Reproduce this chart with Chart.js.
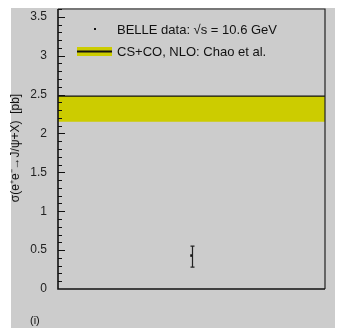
<!DOCTYPE html>
<html>
<head>
<meta charset="utf-8">
<script src="https://cdn.jsdelivr.net/npm/chart.js@4/dist/chart.umd.min.js"></script>
<style>
  html, body { margin: 0; padding: 0; background: #fff; }
  #wrap { width: 337px; height: 332px; }
</style>
</head>
<body>
<div id="wrap"><canvas id="c" width="337" height="332"></canvas></div>
<script>
// values
const xRange = [0, 2];
const belleX = [1];
const belleY = [0.43];
const belleErrUp = [0.12];
const belleErrDown = [0.15];
const bandLow = [2.15, 2.15];
const bandHigh = [2.48, 2.48];
const yTicks = [0, 0.5, 1, 1.5, 2, 2.5, 3, 3.5];

const bandColor = '#cccc00';
const font = 'Arial, "Liberation Sans", sans-serif';

const decor = {
    id: 'decor',
    beforeDraw(chart) {
        const ctx = chart.ctx;
        ctx.save();
        ctx.fillStyle = '#cccccc';
        ctx.fillRect(11, 8, 324, 320);
        ctx.restore();
    },
    afterDatasetsDraw(chart) {
        const ctx = chart.ctx;
        const { left, right, top, bottom } = chart.chartArea;
        const y = chart.scales.y;
        const x = chart.scales.x;
        ctx.save();
        // frame
        ctx.strokeStyle = '#222';
        ctx.lineWidth = 1.2;
        ctx.beginPath();
        ctx.moveTo(left, top);
        ctx.lineTo(right, top);
        ctx.lineTo(right, bottom);
        ctx.stroke();
        ctx.strokeStyle = '#111';
        ctx.lineWidth = 1.6;
        ctx.beginPath();
        ctx.moveTo(left, top);
        ctx.lineTo(left, bottom);
        ctx.lineTo(right, bottom);
        ctx.stroke();
        // inward ticks on the y axis
        ctx.lineWidth = 1;
        for (let i = 1; i <= 36; i++) {
            const v = i / 10;
            const py = Math.round(y.getPixelForValue(v)) + 0.5;
            const len = i % 5 === 0 ? 7 : 4;
            ctx.beginPath();
            ctx.moveTo(left, py);
            ctx.lineTo(left + len, py);
            ctx.stroke();
        }
        // error bars
        ctx.strokeStyle = '#222';
        ctx.lineWidth = 1.2;
        belleX.forEach((bx, i) => {
            const px = Math.round(x.getPixelForValue(bx)) + 0.5;
            const yHi = y.getPixelForValue(belleY[i] + belleErrUp[i]);
            const yLo = y.getPixelForValue(belleY[i] - belleErrDown[i]);
            ctx.beginPath();
            ctx.moveTo(px, yHi);
            ctx.lineTo(px, yLo);
            ctx.moveTo(px - 2, yHi);
            ctx.lineTo(px + 2, yHi);
            ctx.moveTo(px - 2, yLo);
            ctx.lineTo(px + 2, yLo);
            ctx.stroke();
        });
        // legend
        ctx.fillStyle = '#111';
        ctx.fillRect(94, 28, 2, 2);
        ctx.fillStyle = bandColor;
        ctx.fillRect(77, 47, 35, 9);
        ctx.fillStyle = '#111';
        ctx.fillRect(77, 50.5, 35, 2);
        ctx.font = '13px ' + font;
        ctx.textBaseline = 'middle';
        ctx.fillStyle = '#111';
        ctx.fillText('BELLE data: \u221As = 10.6 GeV', 117, 30);
        ctx.fillText('CS+CO, NLO: Chao et al.', 117, 52);
        // y title
        ctx.save();
        ctx.translate(16, 148);
        ctx.rotate(-Math.PI / 2);
        ctx.textAlign = 'center';
        ctx.font = '12px ' + font;
        ctx.fillText('\u03c3(e\u207ae\u207b\u2192J/\u03c8+X)  [pb]', 0, 0);
        ctx.restore();
        // panel label
        ctx.font = '11px ' + font;
        ctx.textAlign = 'left';
        ctx.fillText('(i)', 30, 321);
        ctx.restore();
    }
};

new Chart(document.getElementById('c'), {
    type: 'scatter',
    data: {
        datasets: [
            {
                type: 'line',
                data: xRange.map((xv, i) => ({ x: xv, y: bandLow[i] })),
                borderWidth: 0,
                pointRadius: 0,
                fill: false
            },
            {
                type: 'line',
                data: xRange.map((xv, i) => ({ x: xv, y: bandHigh[i] })),
                borderColor: '#111',
                borderWidth: 1.2,
                backgroundColor: bandColor,
                pointRadius: 0,
                fill: '-1'
            },
            {
                data: belleX.map((xv, i) => ({ x: xv, y: belleY[i] })),
                pointStyle: 'rect',
                pointRadius: 1.8,
                backgroundColor: '#111',
                borderWidth: 0
            }
        ]
    },
    options: {
        responsive: false,
        animation: false,
        events: [],
        layout: { padding: { left: 11, top: 9, right: 12, bottom: 43 } },
        plugins: { legend: { display: false }, tooltip: { enabled: false } },
        scales: {
            x: {
                type: 'linear',
                min: xRange[0],
                max: xRange[1],
                grid: { display: false, drawTicks: false },
                border: { display: false },
                ticks: { display: false },
                afterFit(s) { s.height = 0; s.paddingLeft = 0; s.paddingRight = 0; }
            },
            y: {
                min: 0,
                max: 3.6,
                grid: { display: false, drawTicks: false },
                border: { display: false },
                afterBuildTicks(s) { s.ticks = yTicks.map(v => ({ value: v })); },
                ticks: {
                    includeBounds: false,
                    padding: 11,
                    color: '#222',
                    font: { family: font, size: 12 },
                    callback: v => String(v)
                },
                afterFit(s) { s.width = 47; s.paddingTop = 0; s.paddingBottom = 0; }
            }
        }
    },
    plugins: [decor]
});
</script>
</body>
</html>
